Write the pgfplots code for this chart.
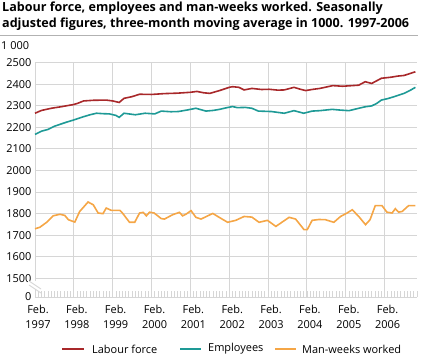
\documentclass[border=0pt]{standalone}
\usepackage{pgfplots}
\pgfplotsset{compat=1.18}
\usepackage{fontspec}
\setmainfont{Open Sans}
\definecolor{lf}{HTML}{A8282A}
\definecolor{emp}{HTML}{1E9A96}
\definecolor{mw}{HTML}{F5A646}
\definecolor{grid}{HTML}{D6D6D6}
\begin{document}
\begin{tikzpicture}
\useasboundingbox (0bp,0bp) rectangle (427bp,-362bp);
\node[anchor=north west, align=left, inner sep=0pt, font=\bfseries\fontsize{12.6}{16}\selectfont] at (2bp,-2bp)
 {Labour force, employees and man-weeks worked. Seasonally\\adjusted figures, three-month moving average in 1000. 1997-2006};
\draw[gray!60, line width=0.8bp] (0bp,-35bp) -- (418bp,-35bp);
\node[anchor=west, inner sep=0pt, font=\fontsize{11}{13}\selectfont] at (1bp,-46bp) {1 000};
\begin{axis}[
  at={(35bp,-297bp)}, anchor=south west,
  scale only axis, width=382bp, height=234.5bp,
  xmin=0, xmax=118, ymin=1414, ymax=2500,
  axis line style={draw=none},
  ytick={1414,1500,1600,1700,1800,1900,2000,2100,2200,2300,2400,2500},
  yticklabels={0,1500,1600,1700,1800,1900,2000,2100,2200,2300,2400,2500},
  xtick={0,12,...,108},
  xticklabels={Feb.\\1997,Feb.\\1998,Feb.\\1999,Feb.\\2000,Feb.\\2001,Feb.\\2002,Feb.\\2003,Feb.\\2004,Feb.\\2005,Feb.\\2006},
  xticklabel style={align=center, font=\fontsize{11}{15}\selectfont, xshift=3bp, yshift=-5bp},
  yticklabel style={font=\fontsize{11}{13}\selectfont},
  tick style={draw=none},
  grid=major, major grid style={draw=grid, line width=0.9bp},
  /pgf/number format/assume math mode=true,
  clip=false,
]
\addplot[lf, line width=1.6bp] coordinates {
(0,2265)(2,2278)(5,2288)(8,2295)(11.8,2305)(13,2310)(15,2322)(18,2325)(22,2326)(24,2322)(26,2315)(27.5,2334)(30,2342)(32.3,2353)(36,2352)(40,2356)(44,2358)(48,2362)(50,2366)(52,2360)(54,2357)(57,2370)(60,2385)(61,2388)(63,2385)(64.6,2373)(67,2380)(70,2375)(72.3,2376)(75,2372)(77,2373)(80,2385)(82,2376)(83.6,2370)(86,2376)(88,2380)(92,2393)(95,2390)(98,2393)(100,2395)(102,2411)(104,2403)(107,2427)(110,2432)(112,2437)(114,2440)(117.5,2457)};
\addplot[emp, line width=1.6bp] coordinates {
(0,2167)(2,2182)(4,2190)(6,2205)(8,2215)(10,2225)(12,2234)(15,2249)(17,2258)(19,2265)(21,2263)(23,2262)(25,2255)(26,2246)(27.5,2265)(29,2262)(31,2258)(34,2265)(37,2262)(39,2275)(42,2272)(44.3,2273)(47,2280)(49.7,2288)(52.8,2275)(55,2278)(57,2283)(59,2290)(61,2296)(62.5,2291)(65,2292)(67,2288)(69,2275)(73,2273)(77,2265)(80,2277)(83,2265)(85.6,2275)(88,2277)(91.8,2283)(94,2280)(97,2277)(100,2288)(102,2295)(104,2299)(105.5,2310)(107,2326)(109,2333)(111,2342)(114,2357)(116,2372)(117.5,2385)};
\addplot[mw, line width=1.6bp] coordinates {
(0,1730)(1.5,1737)(3.6,1760)(5.6,1790)(7.7,1797)(9.2,1792)(10.3,1772)(12.3,1761)(13.8,1810)(16.4,1854)(18,1841)(19.5,1803)(21,1800)(22,1826)(23.6,1815)(26.2,1815)(27,1803)(29.2,1760)(30.8,1760)(32.3,1803)(33.4,1806)(34.4,1790)(35.4,1807)(36.8,1803)(39,1777)(40,1775)(42.5,1795)(44.6,1806)(45.6,1790)(46.7,1798)(48.2,1814)(49.7,1783)(51.3,1775)(54.9,1801)(57,1782)(59.5,1760)(62,1769)(64.6,1787)(67,1784)(69.2,1760)(71.8,1769)(74.4,1741)(78.5,1783)(80.5,1775)(83.1,1726)(84.1,1726)(85.6,1769)(87.7,1773)(89.7,1772)(92.3,1760)(94.4,1787)(96.4,1803)(98,1818)(100,1787)(102.1,1749)(103.5,1772)(105.1,1837)(107.2,1837)(108.7,1807)(110.3,1803)(111.3,1823)(112.3,1807)(113.4,1810)(115.4,1837)(117.5,1837)};
% monthly ticks on baseline
\pgfplotsinvokeforeach{0,...,118}{
  \draw[grid, line width=0.8bp] (axis cs:#1,1414) -- ++(0bp,6bp);
}
\draw[grid, line width=0.9bp] (axis cs:0,1414) -- (axis cs:118,1414);
% axis break
\fill[white] (axis cs:0,1414) ++(-7bp,8bp) rectangle ++(14bp,8bp);
\draw[grid, line width=0.9bp] (axis cs:0,1414) ++(-6bp,16bp) -- ++(12bp,-8bp);
\draw[grid, line width=0.9bp] (axis cs:0,1414) ++(-6bp,12bp) -- ++(12bp,-8bp);
\end{axis}
% legend
\draw[lf, line width=1.6bp] (62bp,-349bp) -- (84bp,-349bp);
\node[anchor=west, inner sep=0pt, font=\fontsize{11}{13}\selectfont] at (92bp,-349bp) {Labour force};
\draw[emp, line width=1.6bp] (180bp,-349bp) -- (201bp,-349bp);
\node[anchor=west, inner sep=0pt, font=\fontsize{11}{13}\selectfont] at (208bp,-349bp) {Employees};
\draw[mw, line width=1.6bp] (275bp,-349bp) -- (296bp,-349bp);
\node[anchor=west, inner sep=0pt, font=\fontsize{11}{13}\selectfont] at (302bp,-349bp) {Man-weeks worked};
\end{tikzpicture}
\end{document}
